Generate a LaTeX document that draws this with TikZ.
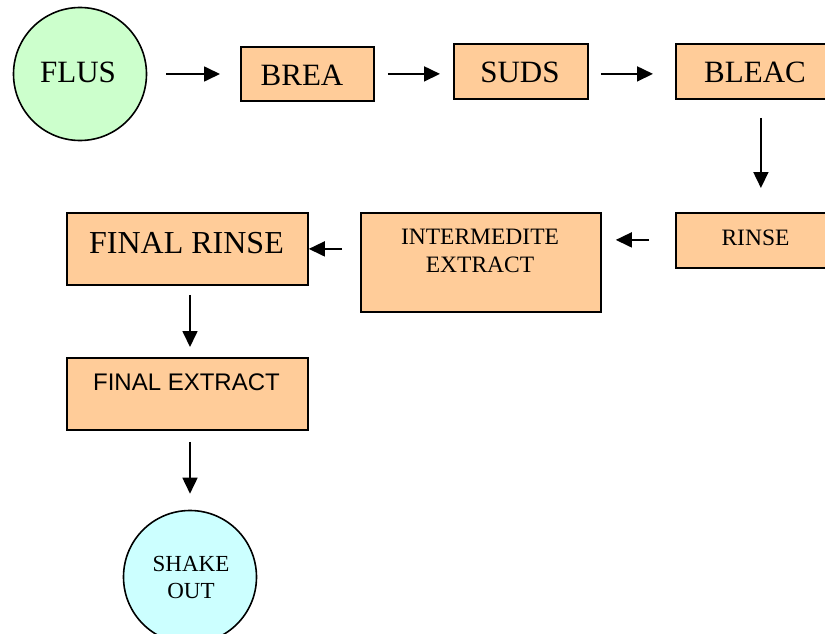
\documentclass[tikz,border=0pt]{standalone}
\usepackage{fontspec}
\setmainfont{Liberation Serif}
\newfontfamily\arialfont{Liberation Sans}
\usetikzlibrary{arrows.meta}
\definecolor{boxfill}{HTML}{FFCC99}
\definecolor{startfill}{HTML}{CCFFCC}
\definecolor{endfill}{HTML}{CCFFFF}
\tikzset{
  stepbox/.style={draw=black, line width=1.8pt, fill=boxfill, rectangle,
    inner sep=0pt, anchor=north west},
  roundbox/.style={draw=black, line width=1.6pt, circle, inner sep=0pt,
    minimum size=133pt},
  bigtext/.style={font=\fontsize{31}{36}\selectfont, anchor=base, inner sep=0pt},
  smalltext/.style={font=\fontsize{23.5}{28}\selectfont, inner sep=0pt},
  flow/.style={line width=1.7pt, -{Triangle[length=16pt,width=15pt]}},
}
\begin{document}
\begin{tikzpicture}[x=1pt, y=-1pt]
\useasboundingbox[fill=white] (0,0) rectangle (825,634);

% start and end circles
\node[roundbox, fill=startfill] (flus) at (80,74) {};
\node[bigtext] (flustxt) at (78,83) {FLUS};

\node[roundbox, fill=endfill] (shake) at (190,577) {};
\node[smalltext, align=center, font=\fontsize{23}{27}\selectfont] (shaketxt) at (191,577) {SHAKE\\OUT};

% top row
\node[stepbox, minimum width=133pt, minimum height=54pt] (brea) at (240,46) {};
\node[bigtext] (breatxt) at (302,85) {BREA};

\node[stepbox, minimum width=134pt, minimum height=55pt] (suds) at (453,43) {};
\node[bigtext] (sudstxt) at (520,83) {SUDS};

\node[stepbox, minimum width=160pt, minimum height=55pt] (bleac) at (675,43) {};
\node[bigtext] (bleactxt) at (755,83) {BLEAC};

% middle row
\node[stepbox, minimum width=160pt, minimum height=55pt] (rinse) at (675,212) {};
\node[smalltext, anchor=base] (rinsetxt) at (755.5,245) {RINSE};

\node[stepbox, minimum width=240pt, minimum height=99pt] (inter) at (360,212) {};
\node[smalltext, align=center] (intertxt) at (480,250.5) {INTERMEDITE\\EXTRACT};

\node[stepbox, minimum width=241pt, minimum height=72pt] (frinse) at (66,212) {};
\node[bigtext, font=\fontsize{32}{36}\selectfont] (frinsetxt) at (186.5,253) {FINAL RINSE};

% lower column
\node[stepbox, minimum width=241pt, minimum height=72pt] (fextract) at (66,357) {};
\node[smalltext, anchor=base, font=\arialfont\fontsize{24}{28}\selectfont] (fextracttxt) at (186.5,390) {FINAL EXTRACT};

% connectors
\draw[flow, shorten <=19pt, shorten >=20pt] (flus.east) -- (flus.east -| brea.west);
\draw[flow, shorten <=13pt, shorten >=13pt] (brea.east) -- (brea.east -| suds.west);
\draw[flow, shorten <=12pt, shorten >=22pt] ([yshift=-2.5pt]suds.east) -- ([yshift=-2.5pt]suds.east -| bleac.west);
\draw[flow, shorten <=18pt, shorten >=24pt] ([xshift=5pt]bleac.south) -- ([xshift=5pt]rinse.north);
\draw[flow, shorten <=26pt, shorten >=14pt] ([yshift=0.5pt]rinse.west) -- ([yshift=0.5pt]rinse.west -| inter.east);
\draw[flow, shorten <=18pt, shorten >=0pt] (inter.west |- frinse.east) -- (frinse.east);
\draw[flow, shorten <=9pt, shorten >=10pt] (frinse.south -| shake.north) -- (fextract.north -| shake.north);
\draw[flow, shorten <=11pt, shorten >=16pt] (fextract.south -| shake.north) -- (shake.north);
\end{tikzpicture}
\end{document}
